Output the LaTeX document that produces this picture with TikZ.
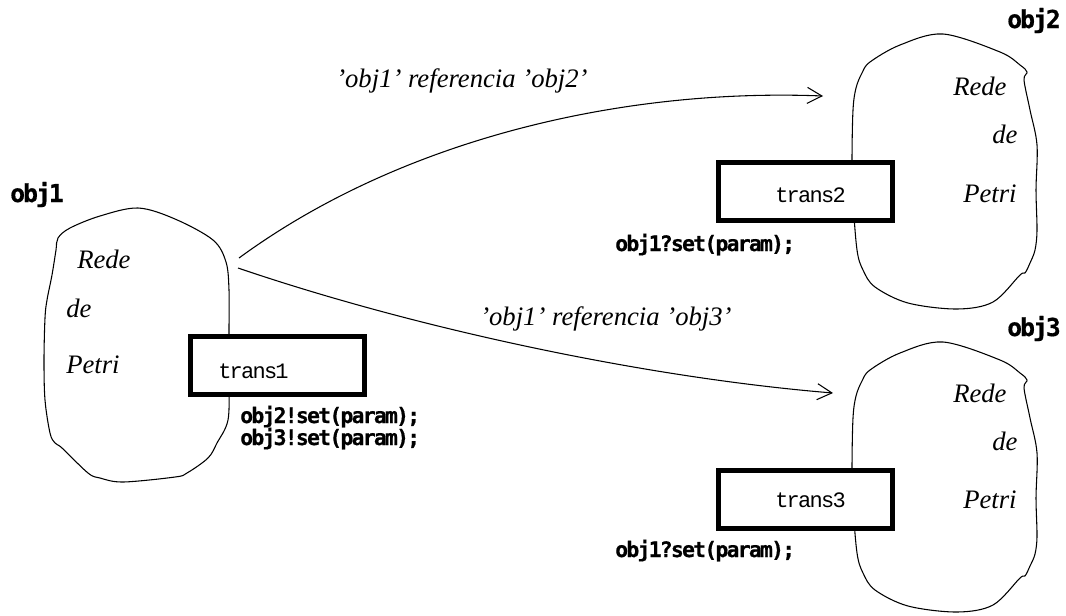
\documentclass[tikz,border=0pt]{standalone}
\usepackage{fontspec}
\setmainfont{Liberation Serif}
\newfontfamily\codefont[LetterSpace=-8, BoldFeatures={FakeBold=0.6}]{DejaVu Sans Mono}
\newfontfamily\transfont[LetterSpace=-8]{Liberation Mono}
\usetikzlibrary{arrows.meta}

\begin{document}
\begin{tikzpicture}[x=0.75pt,y=-0.75pt,
  blob/.style={draw, line width=0.8pt, line join=round},
  trbox/.style={draw, line width=3.75pt, fill=white, minimum width=130.5pt,
    minimum height=43.5pt, inner sep=0pt},
  trtext/.style={font=\transfont\fontsize{16.5}{18}\selectfont, anchor=base west, inner sep=0pt},
  code/.style={font=\codefont\bfseries\fontsize{16}{18}\selectfont, anchor=base west, inner sep=0pt},
  objname/.style={font=\codefont\bfseries\fontsize{18.5}{21}\selectfont, anchor=base west, inner sep=0pt},
  petri/.style={font=\itshape\fontsize{20}{23}\selectfont, anchor=base west, inner sep=0pt},
  ref/.style={-{Straight Barb[length=11pt,width=12pt]}, line width=0.8pt}
]
\useasboundingbox (0,0) rectangle (1066,615);

% object obj1
\draw[blob] plot[smooth cycle, tension=0.55] coordinates {
  (138,208) (175,219) (213,240) (226,262) (229,290) (229,330) (229,380)
  (228,420) (217,443) (208,458) (187,473) (175,477) (123,482) (100,478)
  (88,473) (62,448) (55,443) (50,433) (45,400) (44,360) (45,318) (47,300)
  (52,275) (56,250) (58,238) (70,228) (100,216)};
% object obj2
\draw[blob] plot[smooth cycle, tension=0.55] coordinates {
  (943,34) (1000,52) (1020,65) (1027,72) (1024,80) (1030,110) (1037,145)
  (1036,190) (1037,230) (1035,250) (1030,263) (1025,273) (1020,275)
  (993,302) (957,309) (908,303) (875,287) (863,270) (857,250) (853,200)
  (852,160) (853,110) (856,88) (862,73) (870,62) (900,45)};
% object obj3
\draw[blob] plot[smooth cycle, tension=0.55] coordinates {
  (943,342) (1000,360) (1020,373) (1027,380) (1024,388) (1030,418) (1037,453)
  (1036,498) (1037,536) (1035,554) (1030,566) (1025,576) (1020,578)
  (993,605) (957,612) (908,606) (875,590) (863,573) (857,553) (853,505)
  (852,468) (853,418) (856,396) (862,381) (870,370) (900,353)};

% object names
\node[objname] (n1) at (10,202) {obj1};
\node[objname] (n2) at (1007,28) {obj2};
\node[objname] (n3) at (1007,336) {obj3};

% net labels
\node[petri] (p1a) at (77,268) {Rede};
\node[petri] (p1b) at (66,317) {de};
\node[petri] (p1c) at (66,373) {Petri};
\node[petri] (p2a) at (953,95) {Rede};
\node[petri] (p2b) at (992,143) {de};
\node[petri] (p2c) at (963,202) {Petri};
\node[petri] (p3a) at (953,402) {Rede};
\node[petri] (p3b) at (992,450) {de};
\node[petri] (p3c) at (963,508) {Petri};

% transitions
\node[trbox] (t1) at (277.5,365) {};
\node[trtext] (t1l) at (218,378) {trans1};
\node[trbox] (t2) at (805,191.5) {};
\node[trtext] (t2l) at (775,202) {trans2};
\node[trbox] (t3) at (805,499.5) {};
\node[trtext] (t3l) at (775,507) {trans3};

% synchronisation code
\node[code] (c1a) at (240,423) {obj2!set(param);};
\node[code] (c1b) at (240,445) {obj3!set(param);};
\node[code] (c2) at (615,251) {obj1?set(param);};
\node[code] (c3) at (615,557) {obj1?set(param);};

% references between objects
\coordinate (r2s) at (239,258);
\coordinate (r2e) at (823,96);
\coordinate (r3s) at (238,268);
\coordinate (r3e) at (833,393);
\draw[ref] (r2s) .. controls (400,140) and (620,88) .. (r2e);
\draw[ref] (r3s) .. controls (420,330) and (650,378) .. (r3e);
\node[petri] (l2) at (336,87) {'obj1' referencia 'obj2'};
\node[petri] (l3) at (480,325) {'obj1' referencia 'obj3'};
\end{tikzpicture}
\end{document}
